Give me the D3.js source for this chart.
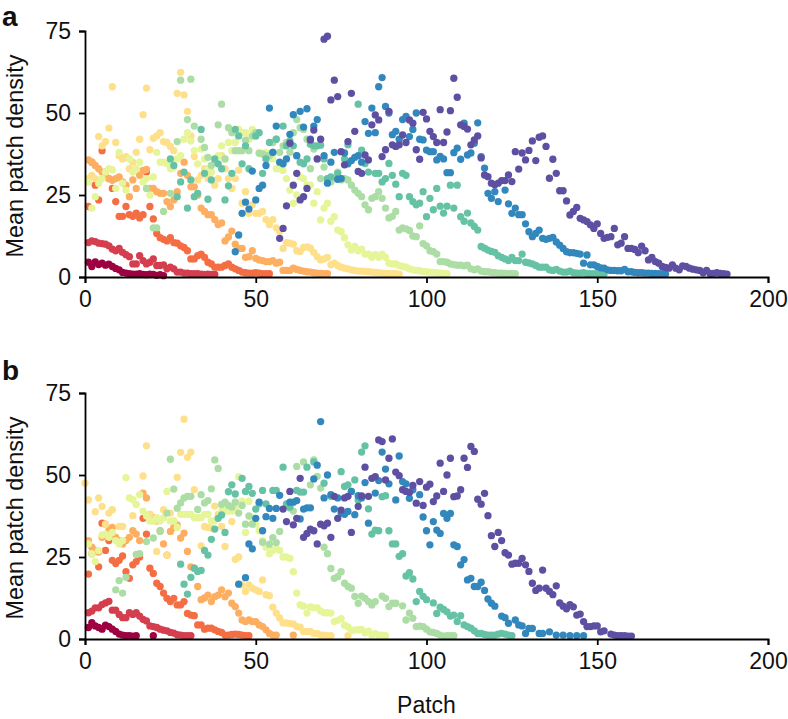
<!DOCTYPE html>
<html><head><meta charset="utf-8">
<script src="https://cdn.jsdelivr.net/npm/d3@7/dist/d3.min.js"></script>
<style>html,body{margin:0;padding:0;background:#fff}svg{display:block}
text{font-family:"Liberation Sans",Arial,sans-serif;fill:#111}</style></head><body>
<script>
const seriesColors=["#9e0142","#d53e4f","#f46d43","#fdae61","#fee08b","#e6f598","#abdda4","#66c2a5","#3288bd","#5e4fa2"];
const xTicks=[0,50,100,150,200];
const yTicks=[0,25,50,75];
const panelLetters=["a","b"];
const yAxisTitle="Mean patch density";
const xAxisTitle="Patch";
// panel a: values listed from patch 1
const a1=[4.5,3.2,4.6,3.8,4.2,3.6,3.9,3.2,2.6,2.2,1.4,1.2,1,.9,.9,1,.8,.7,.9,.8,.5,.7,.4];
const a2=[10.5,11,10.8,10.3,10.2,10,9.5,8.5,8,8.7,7.5,6.8,6.2,4,4,6.5,5,4,4.5,5.5,3.5,3.5,3.7,2.5,3,2.5,1.5,1.5,1.2,1.2,1,1,1,.9,.8,.9,.8,.8];
const a3=[21.5,35,28,23.5,38.5,32,30,27,23,18.5,18.5,21.5,19,18.5,19.5,18,19,32,21.5,17.7,13.3,12,11.5,11,12,10.5,10.3,9.5,9,8,5.5,5.5,6.5,7,6,4.5,4,3,3,3,3.5,4,3,2.5,2,1.5,1.3,1.2,1.2,1.3,1.2,1,1,1];
const a4=[35.7,35,34,33,32,31,30,29.5,30,30.5,29,28,24.5,29.6,27,31,32.5,32.8,27,27,26,25.5,25.5,23,21.5,23.5,26,31.6,35,31,27.5,27.5,25,21,20,19,19,17.5,16,16.5,11,12.2,14,10,8.7,8.7,6,6.2,8,5.7,5.2,5,4.7,4.7,5,4.2,4.5,2,2,2,2.7,2.3,2,1.8,1.6,1.5,1.3,1.2,1.1,1,1];
const a5=[30,31,30,42.8,40,41.3,45.4,58,41,37,36,36.7,33,35,38,42,49.5,57.6,38.8,42.3,43,44,41.3,41,39.8,38.5,56,62.4,55.5,50.5,43,36.7,29.6,31,33,30,32,28,30,37,33,30,27,30,32.6,22.5,26,19.4,22,19.4,19.4,20,17.5,16,17.5,15,14,8.7,10.5,10.3,10,8,7.8,9,9.2,8.8,7.5,6.2,5.2,5.5,6,3.7,4.2,3.5,3,2.7,2.5,2.2,2,1.8,1.8,1.7,1.6,1.5,1.4,1.3,1.2,1.1,1,1,1,.9];
const a6=[29,21,24.5,28.5,30,32,33,32.7,27,38,28.6,26.5,36,32,33,35,29,30,25,30.5,38,35,35,34.5,33,33.5,36,37,42,44,41.5,38.5,34.5,39,36,33,32,35,37,40,36,41,38.5,41,45,44,44,42,45,43,38,37.5,38,37,36,33,33,32.5,30,26.5,22.5,25,30.5,30,28,28,22.5,26,17.4,21,22.5,17,18.4,14.3,13.8,12,9.8,8.2,9.3,8,8.5,7,7,6,6.8,6,7,6,4.2,4,4,3.5,3.2,3,2.5,2.2,2,1.9,1.7,1.6,1.5,1.4,1.3,1.2,1.1,1];
// the remaining series are [patch, density] pairs
const a7=[[18,27],[20,15],[21,15],[23,20],[25,25.5],[27,41.3],[28,60],[30,48],[31,60.3],[32,46],[34,42],[35,39.5],[36,36.5],[37,34],[38,35],[39,46.4],[40,52.7],[41,36],[42,45.5],[43,44],[44,38.5],[45,38.5],[46,38.5],[47,41.7],[48,38.5],[49,43],[50,44],[51,37.7],[52,37.5],[53,37],[54,37],[55,41],[56,42],[57,38],[58,40],[59,41],[60,38],[61,44],[62,48],[63,45.5],[64,45],[65,42],[66,33],[67,39],[68,36],[69,30],[70,33.5],[71,30],[72,29],[73,30],[74,32],[75,29.6],[76,30],[77,29.6],[78,28],[79,26.5],[80,25.5],[81,24.5],[82,22],[83,20.5],[84,24],[85,24.5],[86,26],[87,24],[88,21],[89,18],[90,18.5],[91,20],[92,14.3],[93,15],[94,14.7],[95,14.2],[96,12.5],[97,12.3],[98,15.6],[99,10.2],[100,9.5],[101,8],[102,7.7],[103,7],[104,4.7],[105,4.7],[106,4.5],[107,4],[108,3.8],[109,3.6],[110,3.6],[111,3.4],[112,3.6],[113,2.5],[114,2.2],[115,2.5],[116,1.8],[117,1.6],[118,1.6],[119,1.4],[120,1.3],[121,1.2],[122,1.2],[123,1.1],[124,1],[125,1],[126,1]];
const a8=[[25,36],[26,34],[27,24.5],[28,29],[29,32],[30,21],[31,29.6],[32,24.5],[33,25.5],[34,45],[35,31.6],[36,23.7],[37,29.6],[38,36],[39,34.5],[40,33],[41,23.5],[42,27.8],[43,31.6],[44,45],[45,43],[46,34.5],[47,40],[48,33],[50,43],[51,44],[52,31.6],[53,36],[54,41],[55,38],[56,42],[58,46],[59,40],[60,41.5],[61,40],[62,37],[63,35],[64,34.5],[65,36],[66,40.5],[67,40],[68,40],[69,40.2],[70,36],[71,30],[72,30.5],[74,31.6],[75,30],[76,36],[77,40.3],[80,52.7],[81,38.7],[82,34.6],[83,32],[85,31.6],[86,31.6],[87,29],[88,30],[89,34.6],[90,31],[91,28.3],[92,24.5],[93,31.6],[94,31],[95,24.5],[96,23],[97,22],[98,22.5],[99,26],[100,18.4],[101,24],[102,20.5],[103,27],[104,21.6],[105,19.5],[106,21.6],[107,28],[108,21],[109,28],[110,18.4],[111,17],[112,19.5],[113,16.5],[114,15.4],[115,14.3],[116,9.3],[117,8.8],[118,8.2],[119,7.8],[120,7.5],[121,6.5],[122,6],[123,5.5],[124,5],[125,6],[126,5],[127,5],[128,7],[129,4.5],[130,4.3],[131,4],[132,3.5],[133,3],[134,3],[135,3],[136,2.2],[137,2],[138,2.3],[139,1.8],[140,1.5],[141,1.5],[142,1.8],[143,1.3],[144,1.2],[145,1.2],[146,1.3],[147,1.1],[148,1],[149,1],[150,1],[151,1],[152,.9]];
const a9=[[44,7.7],[45,12.8],[46,19.4],[47,22.8],[48,20.7],[49,32.3],[50,23.5],[51,27],[52,28],[53,34],[54,51.5],[55,38],[56,46],[57,35],[58,34.5],[59,36],[60,43.5],[61,49.5],[62,37],[63,50.5],[64,45.7],[65,51.3],[66,42],[67,46],[68,48],[70,37],[71,28.6],[72,35],[73,38],[74,29.8],[75,30],[76,37.8],[77,34.5],[78,35.5],[79,36.5],[80,37],[81,35],[82,47.4],[83,43.8],[84,51.5],[85,44],[86,58],[87,60.8],[88,52],[89,50],[90,43.4],[91,44.4],[92,42],[93,48],[94,49],[95,42.8],[96,45],[97,50],[98,42],[99,41.8],[100,38.7],[101,38.2],[102,38.2],[103,35.7],[104,36.8],[105,36],[106,31.8],[107,31.8],[108,37.9],[109,39.3],[110,35.9],[111,46.9],[112,37.2],[113,37.8],[114,40.8],[115,47],[116,36.7],[117,33.2],[118,25.5],[119,24],[120,26],[121,23],[123,26.5],[124,22.3],[125,19.4],[126,21],[127,19],[128,19],[129,16.2],[130,13.8],[131,12.3],[132,13.3],[133,14.3],[134,11.8],[135,11.5],[136,11.8],[137,12.1],[138,10.7],[139,9.7],[140,8.7],[141,7.7],[142,7.4],[143,7.4],[144,7.2],[145,7],[146,4.2],[147,6.7],[148,3.7],[149,3.7],[150,3.2],[151,2.8],[152,2.7],[153,2.2],[154,2],[155,2],[156,1.9],[157,1.9],[158,2.3],[159,1.6],[160,1.6],[161,1.4],[162,1.3],[163,1.3],[164,1.2],[165,1.2],[166,1.1],[167,1.1],[168,1],[169,1],[170,.9]];
const a10=[[57,11.8],[58,14.8],[59,21.7],[60,40.8],[61,28],[62,31.6],[63,23.5],[64,24.5],[65,27],[66,41.8],[67,44.8],[68,36],[69,42],[70,72.5],[71,73.4],[72,54],[73,60],[74,55],[75,38.2],[76,34.2],[77,41.3],[78,56],[79,44.4],[80,32.2],[81,31.6],[82,37.2],[83,35.7],[84,46.4],[85,49.4],[86,47.9],[87,36.7],[88,38.8],[89,50.5],[90,40.3],[91,39.8],[92,40.3],[93,43.3],[94,41],[95,47.9],[96,46.9],[97,38.8],[98,35.9],[99,50.2],[100,48.2],[101,44.4],[102,42.8],[103,41],[104,51],[105,41],[106,44.2],[107,50.7],[108,60.6],[109,54.8],[110,46.4],[111,45.9],[112,45.1],[113,40.3],[114,41.8],[115,43],[116,36.3],[117,31.1],[118,30.6],[119,28.6],[120,28.1],[121,28.6],[122,29.4],[123,29.4],[124,31.1],[125,29.1],[126,38.2],[127,32.9],[128,37.8],[129,35.7],[130,38.6],[131,41.5],[132,35.5],[133,42.6],[134,43,],[135,39.8],[136,30.1],[137,35.9],[138,31.6],[139,26.3],[140,26.3],[141,23.2],[142,18.9],[143,20],[144,21.2],[145,17.9],[146,17.4],[147,16.9],[148,15.9],[149,14.8],[150,16.2],[151,13.3],[152,11.8],[153,12.1],[154,12.3],[155,14.8],[156,9.8],[157,10.3],[158,12.3],[159,8.7],[160,8.7],[161,8.4],[162,7.4],[163,9.4],[164,8],[165,5.2],[166,6],[167,4.7],[168,4.2],[169,3.2],[170,2.9],[171,2.7],[172,3.7],[173,2.7],[174,2.2],[175,3.4],[176,3.2],[177,2.7],[178,2.4],[179,2.2],[180,2],[181,1.3],[182,2],[183,1.1],[184,1.1],[185,1.3],[186,1.1],[187,1],[188,.9]];
// panel b
const b1=[[1,3.5],[2,5],[3,4],[4,3.5],[5,3],[6,4.2],[7,3.8],[8,3],[9,2.3],[10,1.5],[11,1.2],[12,1],[13,1],[14,.9],[15,1],[20,1]];
const b2=[8,8.5,9.5,9.5,10.5,11,11.5,8.8,8.8,7.5,6.5,6.5,8,7.5,8,7,6,5.5,4,3.8,3.5,3,2.7,2.5,2,1.8,1.3,1.2,1,1,1];
const b3=[19.8,26,27,22,35.3,27,30,24,23,24,25.3,20.5,18.5,22.6,23.6,25,36.8,32,21.6,20,17,16,14,12.4,11.4,12.4,10.4,10.4,11.4,7.8,7.3,7.1,4.3,4.3,3,3.3,3.3,2.8,2.3,2,1.2,1.2,1.4,1.5,1.4,1.2,1,1];
const b4=[[1,30],[2,28],[3,27],[4,26.5],[5,31],[6,35],[7,33],[8,34],[9,31],[10,30],[11,29],[12,30],[13,31],[14,33],[15,32],[16,30],[17,44.5],[18,43],[19,38],[20,37],[21,36],[22,33],[23,29],[24,25.6],[25,32.8],[26,34],[27,34.8],[28,30.8],[29,32.3],[30,26.7],[31,22],[32,21.6],[33,16],[34,12],[35,12.5],[36,13.4],[37,11.4],[38,12.9],[39,13.4],[40,15],[41,12.9],[42,14],[43,10.9],[44,9.9],[45,7.9],[46,5.8],[47,5.3],[48,5.8],[49,5.3],[50,5.3],[51,4.3],[52,3.8],[53,2.8],[54,1.7],[55,1.2],[56,1.2],[61,1.2]];
const b5=[[0,47.5],[1,42.4],[3,38.8],[4,43],[5,40.4],[6,35],[7,38.4],[8,39.4],[10,34.3],[11,34.3],[14,37.6],[17,49.7],[18,58.9],[19,38],[20,36],[21,26.7],[23,39.4],[24,25.6],[25,38.4],[26,36],[27,49.3],[28,56.9],[29,67],[30,55.4],[31,57],[32,45.5],[33,37],[34,28.4],[35,34.3],[36,34],[37,33.8],[38,40.5],[39,38],[40,34.3],[41,28.2],[43,35.8],[44,24.3],[45,25],[46,16.5],[47,14.5],[48,16.5],[49,15.5],[50,15],[51,14.5],[52,18],[53,13.5],[54,13.2],[55,9.7],[56,7.9],[57,6.4],[58,4.9],[59,4.9],[60,4.7],[61,4.6],[62,3.8],[63,3.6],[64,2.3],[65,2.3],[66,2.3],[67,1.7],[68,1.7],[69,1.2],[70,1.2],[71,1],[72,1],[77,1]];
const b6=[[1,29],[2,26],[3,23.6],[4,27],[5,31.7],[6,32],[7,31],[8,32.5],[9,30],[10,29],[11,30],[12,49.2],[13,43],[14,42.5],[15,41],[16,44],[17,39],[18,37.5],[19,36],[20,36],[21,37],[22,36],[23,37],[24,45],[25,36],[26,36],[27,34],[28,38],[29,38],[30,38],[31,38],[32,37],[33,37],[34,37],[35,38],[36,38],[37,36],[38,36],[39,37],[40,39],[41,39],[42,39],[43,39],[44,40],[45,49.5],[46,42],[47,32.5],[48,42],[49,37],[50,35],[51,33],[52,30],[53,28],[54,26],[55,27],[56,27.5],[57,27],[58,25],[59,25],[60,24.6],[61,20.5],[62,14],[63,10.4],[64,10],[65,7.9],[66,9.8],[67,9.5],[68,9.5],[69,8.5],[70,8],[71,8],[72,7.9],[73,5.3],[74,5.7],[75,6.2],[76,4.2],[77,3.7],[78,2.5],[79,2.8],[80,2.8],[81,2.9],[82,1.9],[83,2.4],[84,1.2],[85,1.6],[86,1.2],[87,1.2],[88,1]];
const b7=[[9,15],[10,17.8],[11,14],[12,18.8],[15,25.8],[16,26],[18,29.7],[20,30.8],[22,32.8],[24,38.4],[25,54.8],[26,45.7],[27,39.9],[28,41.5],[29,43],[30,43.5],[31,43.5],[33,39.5],[34,44],[35,41.5],[36,42.2],[37,45.8],[38,54.6],[39,52],[40,41],[41,41.7],[42,40.7],[43,40.2],[44,41.7],[45,38.4],[46,40.7],[47,35],[48,37.5],[49,35],[52,29.5],[54,28.9],[55,30.9],[56,29.4],[57,32.8],[59,41],[60,39.9],[61,39],[62,52.6],[64,54],[66,47],[67,54.6],[68,49.6],[69,46],[70,28],[71,26],[72,21.5],[73,18.5],[74,19],[75,20.5],[76,17],[77,16],[78,15.5],[79,13],[80,10.9],[81,13.1],[82,12.4],[83,11.4],[84,10.4],[85,11.4],[87,13.1],[88,12.4],[89,9.9],[90,10.9],[91,10.9],[93,10.1],[94,5.8],[95,7.9],[96,6.3],[97,3.8],[98,3.9],[99,3.8],[100,3],[101,2.2],[102,2],[103,1.7],[104,1.2],[105,.9],[106,1],[107,1],[108,1]];
const b8=[[28,22.8],[29,16.7],[30,13.7],[31,18.8],[32,21.6],[33,20.6],[34,20.9],[35,27],[36,25.6],[37,30.4],[38,33.5],[39,36.8],[40,37.8],[41,32.5],[42,44.9],[43,47],[44,44.2],[46,49],[47,45],[48,46.5],[49,44.4],[50,39.6],[51,41.2],[52,45.3],[53,41.2],[55,45.3],[56,45.3],[58,52.4],[59,41.2],[60,40.2],[62,45.3],[63,44.8],[64,44.8],[65,52.4],[67,54],[70,47.5],[72,43.5],[75,51],[76,46.5],[77,47],[78,45],[79,48.5],[80,42.4],[81,57],[82,58.9],[83,39.7],[84,32,],[85,33.2],[86,33],[87,43.4],[88,43.7],[89,33],[90,29],[91,29],[92,25.2],[93,26],[94,19.2],[95,20.2],[96,18.3],[97,11.4],[98,14.5],[99,13],[100,12],[102,11],[103,7.8],[104,9.7],[105,9],[106,8.3],[107,7],[108,7.3],[109,5.3],[110,7.1],[111,4.3],[112,3.8],[113,3.3],[114,2.5],[115,1.7],[116,1.7],[117,1.4],[118,1.2],[119,1.2],[120,1.2],[121,1.5],[122,1.7],[123,1.5],[124,1.2],[125,1]];
const b9=[[45,16.7],[47,18.7],[48,29],[49,27.5],[50,36.8],[51,41.7],[52,33],[53,37.3],[54,39.8],[55,36.8],[56,39.8],[57,43.8],[60,41.7],[61,41.7],[62,42.2],[63,36.6],[64,39.6],[65,40],[66,40],[67,48.8],[68,53],[69,66.3],[70,43],[71,50],[72,44],[73,39.6],[74,43],[75,38.4],[76,38],[77,38.9],[78,45],[79,37.9],[80,43.7],[81,43],[82,47.7],[83,35.3],[85,44.5],[86,48.3],[87,57],[88,51.8],[89,47.3],[91,42.4],[92,55.8],[93,48],[94,47.3],[95,42.9],[96,45.5],[98,44],[99,37.2],[100,33],[101,28.7],[102,35.8],[103,33.2],[104,32.2],[105,38.3],[106,36.8],[107,38.3],[108,28.7],[109,28.2],[110,22.6],[111,24.2],[112,18],[113,18.5],[114,16],[115,16],[116,17.3],[117,14.8],[118,12.2],[119,10.9],[120,10],[122,7],[123,6.5],[124,4.8],[126,5.8],[127,4.3],[128,4],[129,1.7],[130,3.2],[131,3.2],[133,1.7],[134,1.7],[136,2.2],[138,1.2],[140,1.2],[142,1],[144,1],[146,1]];
const b10=[[58,39.6],[59,35.8],[60,45],[61,34.8],[62,36.8],[63,49],[64,31],[65,32.2],[66,33.5],[67,33],[68,29],[69,35],[70,34.5],[71,35.3],[72,31],[73,43.5],[74,36.8],[75,39.3],[76,43],[77,43.5],[78,32.5],[80,40.4],[81,43.6],[82,52.4],[83,43.5],[84,49],[85,49.5],[86,60.7],[87,60.2],[88,48.5],[89,55.1],[90,61],[91,50.9],[92,49.8],[93,45.5],[94,45],[95,44.7],[96,46.8],[97,41.4],[98,48],[99,40.7],[100,46.3],[101,47.2],[102,41.9],[103,43.6],[104,53.6],[105,45],[106,50],[107,55.1],[108,43.4],[109,43.6],[110,45.5],[111,55.1],[112,52.3],[113,58.7],[114,57.2],[115,42.6],[116,41.1],[117,44.4],[118,37.6],[119,31.5],[120,28.2],[121,32.5],[122,30],[123,26.3],[124,25.6],[125,22.8],[126,23.1],[127,23.1],[128,24.6],[129,22.6],[130,20.6],[131,17],[132,14.8],[133,15.5],[134,21],[135,15.5],[136,14.5],[137,13.5],[138,16.2],[139,11],[140,10],[141,9.2],[142,10.5],[143,9.8],[144,7.3],[145,7.6],[146,5.3],[147,3.8],[148,3.8],[149,4],[150,4],[151,2.2],[152,2.5],[154,1.5],[155,1.2],[156,1],[157,1],[158,1],[159,.9],[160,.9]];
const seriesA=[a1,a2,a3,a4,a5,a6,a7,a8,a9,a10];
const seriesB=[b1,b2,b3,b4,b5,b6,b7,b8,b9,b10];

const width=788,height=719;
const svg=d3.select("body").append("svg").attr("width",width).attr("height",height);
const x=d3.scaleLinear().domain([0,200]).range([85,768]);
function panel(top,bottom,series,letter,letterY){
  const y=d3.scaleLinear().domain([0,75]).range([bottom,top]);
  const g=svg.append("g");
  series.forEach((vals,i)=>{
    const pts=Array.isArray(vals[0])?vals:vals.map((v,j)=>[j+1,v]);
    g.append("g").selectAll("circle").data(pts).join("circle")
      .attr("cx",d=>x(d[0])).attr("cy",d=>y(d[1])).attr("r",3.65).attr("fill",seriesColors[i]);
  });
  const xa=svg.append("g").attr("transform",`translate(0,${bottom})`)
    .call(d3.axisBottom(x).tickValues(xTicks).tickSize(6).tickPadding(8));
  const ya=svg.append("g").attr("transform","translate(85,0)")
    .call(d3.axisLeft(y).tickValues(yTicks).tickSize(6).tickPadding(8));
  [xa,ya].forEach(a=>{
    a.selectAll("text").attr("font-size",23).style("font-family",'"Liberation Sans",Arial,sans-serif').attr("fill","#111");
    a.selectAll("path,line").attr("stroke","#000").attr("stroke-width",1.8);
  });
  svg.append("text").attr("transform",`translate(23,${(top+bottom)/2+2}) rotate(-90)`)
    .attr("text-anchor","middle").attr("font-size",23.4).text(yAxisTitle);
  svg.append("text").attr("x",2).attr("y",letterY).attr("font-size",28).attr("font-weight","bold").text(letter);
}
panel(31,277,seriesA,panelLetters[0],25.5);
panel(393,639,seriesB,panelLetters[1],380);
svg.append("text").attr("x",x(100)).attr("y",713).attr("text-anchor","middle").attr("font-size",23).text(xAxisTitle);
</script></body></html>
